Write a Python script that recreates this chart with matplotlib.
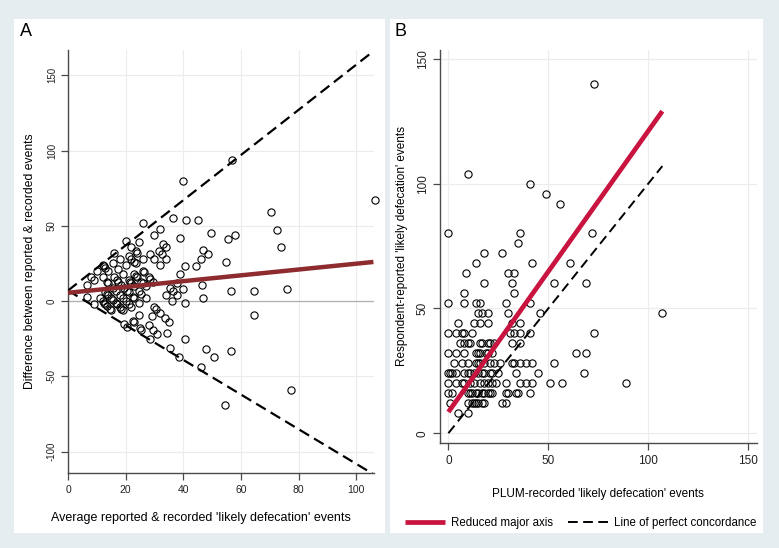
import matplotlib
matplotlib.use('Agg')
import matplotlib.pyplot as plt
import numpy as np
from matplotlib.patches import Rectangle
from matplotlib.lines import Line2D

plt.rcParams['font.family'] = ['Liberation Sans', 'DejaVu Sans']
plt.rcParams['axes.unicode_minus'] = False

# respondent-reported level (rows in panel B) and the PLUM-recorded counts on each row
report_levels = [140, 104, 100, 96, 92, 80, 76, 72, 68, 64, 60, 56, 52, 48, 44,
                 40, 36, 32, 28, 24, 20, 16, 12, 8]
recorded_rows = [
    [73],
    [10],
    [41],
    [49],
    [56],
    [0, 36, 72],
    [35],
    [18, 27],
    [14, 42, 61],
    [9, 30, 33],
    [18, 32, 53, 69],
    [8, 33],
    [0, 8, 14, 16, 29, 41],
    [15, 17, 20, 30, 46, 107],
    [5, 13, 16, 20, 32, 36],
    [0, 4, 7, 8, 12, 31, 33, 36, 41, 73],
    [6, 8, 10, 11, 16, 17, 20, 21, 23, 32, 36],
    [0, 4, 8, 14, 15, 16, 19, 20, 22, 64, 69],
    [3, 7, 10, 14, 15, 16, 18, 21, 23, 26, 32, 33, 36, 39, 42, 53],
    [0, 1, 2, 4, 8, 10, 11, 13, 15, 17, 18, 21, 22, 25, 34, 45, 68],
    [0, 4, 7, 8, 11, 13, 16, 18, 20, 22, 24, 29, 36, 39, 42, 51, 57, 89],
    [0, 2, 10, 11, 12, 14, 15, 17, 18, 20, 21, 22, 29, 30, 34, 35, 41],
    [1, 10, 12, 13, 14, 15, 17, 18, 27, 29],
    [5, 10],
]

# fitted / reference lines
rma_x = [0, 107]
rma_y = [8.5, 129]
concord_x = [0, 107]
concord_y = [0, 107]
ba_x = [0, 106]
ba_fit = [5.5, 26]
ba_upper = [7, 166]
ba_lower = [7, -115]

recorded = np.array([v for row in recorded_rows for v in row], dtype=float)
reported = np.array([lvl for lvl, row in zip(report_levels, recorded_rows) for _ in row], dtype=float)
mean_ev = (recorded + reported) / 2
diff_ev = reported - recorded

W, H = 779, 548
fig = plt.figure(figsize=(W / 100, H / 100), dpi=100, facecolor='#e6edf1')

def px_rect(x0, y0, x1, y1):
    return [x0 / W, 1 - y1 / H, (x1 - x0) / W, (y1 - y0) / H]

for r in (px_rect(14, 19, 385, 533), px_rect(390, 19, 763, 533)):
    fig.patches.append(Rectangle((r[0], r[1]), r[2], r[3], transform=fig.transFigure,
                                 facecolor='white', edgecolor='none', zorder=-10))

grid_c = '#ececec'
spine_c = '#4a4a4a'
marker_kw = dict(linestyle='none', marker='o', mfc='none', mec='black', ms=5.2, mew=0.8,
                 clip_on=False)

def style_axes(ax, tick_fs_x, tick_fs_y):
    ax.set_facecolor('white')
    for s in ('top', 'right'):
        ax.spines[s].set_visible(False)
    for s in ('left', 'bottom'):
        ax.spines[s].set_color(spine_c)
        ax.spines[s].set_linewidth(1.0)
    ax.tick_params(axis='both', direction='out', length=5, width=0.9, color=spine_c, colors='#222222')
    ax.tick_params(axis='x', labelsize=tick_fs_x, pad=4)
    ax.tick_params(axis='y', labelsize=tick_fs_y, pad=3)
    for lab in ax.get_yticklabels():
        lab.set_rotation(90)
        lab.set_va('center')
    ax.grid(True, color=grid_c, linewidth=0.8)
    ax.set_axisbelow(True)

# ---- Panel A: Bland-Altman style
axA = fig.add_axes(px_rect(68, 50, 374, 472.7))
axA.set_xlim(0, 106.2)
axA.set_ylim(-114, 166.8)
axA.set_xticks([0, 20, 40, 60, 80, 100])
axA.set_yticks([-100, -50, 0, 50, 100, 150])
style_axes(axA, 7.5, 7)
axA.axhline(0, color='#b0b0b0', linewidth=0.9, zorder=1)
axA.plot(mean_ev, diff_ev, zorder=3, **marker_kw)
axA.plot(ba_x, ba_upper, color='black', lw=1.6, dashes=(5, 2.6), zorder=4)
axA.plot(ba_x, ba_lower, color='black', lw=1.6, dashes=(5, 2.6), zorder=4)
axA.plot(ba_x, ba_fit, color='#8e2b2e', lw=3.2, solid_capstyle='butt', zorder=5)

# ---- Panel B: reported vs recorded
axB = fig.add_axes(px_rect(440, 50, 756.7, 442.7))
axB.set_xlim(-4.2, 154.2)
axB.set_ylim(-3.8, 153.5)
axB.set_xticks([0, 50, 100, 150])
axB.set_yticks([0, 50, 100, 150])
style_axes(axB, 8.5, 8.5)
axB.plot(recorded, reported, zorder=3, **marker_kw)
axB.plot(rma_x, rma_y, color='#c8143f', lw=3.4, solid_capstyle='butt', zorder=5)
axB.plot(concord_x, concord_y, color='black', lw=1.4, dashes=(5, 2.8), zorder=4)

# labels
fig.text(20 / W, 1 - 31.5 / H, 'A', fontsize=13, va='center', ha='left')
fig.text(395 / W, 1 - 31.5 / H, 'B', fontsize=13, va='center', ha='left')
fig.text(201 / W, 1 - 518 / H, "Average reported & recorded 'likely defecation' events",
         fontsize=9, ha='center', va='center')
fig.text(30 / W, 1 - 261.5 / H, 'Difference between reported & recorded events',
         fontsize=8.7, ha='center', va='center', rotation=90)
fig.text(598.3 / W, 1 - 494 / H, "PLUM-recorded 'likely defecation' events",
         fontsize=8.5, ha='center', va='center')
fig.text(402 / W, 1 - 245.5 / H, "Respondent-reported 'likely defecation' events",
         fontsize=8.5, ha='center', va='center', rotation=90)

handles = [Line2D([], [], color='#c8143f', lw=3.4, solid_capstyle='butt'),
           Line2D([], [], color='black', lw=1.4, dashes=(5, 2.8))]
fig.legend(handles, ['Reduced major axis', 'Line of perfect concordance'],
           loc='center left', bbox_to_anchor=(405 / W, 1 - 523 / H), ncol=2,
           frameon=False, fontsize=8.3, handlelength=3.5, handletextpad=0.5,
           columnspacing=1.3, borderpad=0, borderaxespad=0)

fig.savefig('out.png', dpi=100, facecolor=fig.get_facecolor())
